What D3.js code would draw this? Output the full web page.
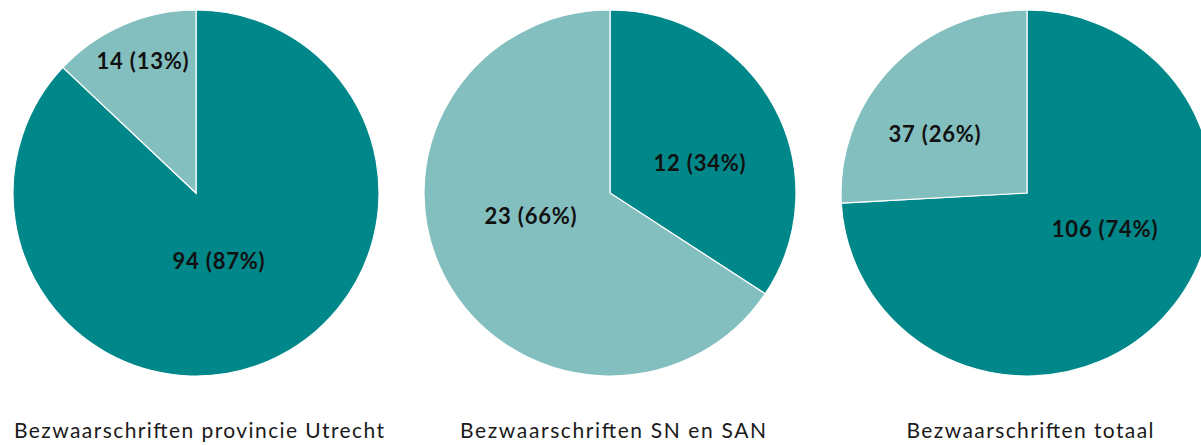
<!DOCTYPE html>
<html><head><meta charset="utf-8">
<script src="https://cdn.jsdelivr.net/npm/d3@7"></script>
<style>body{margin:0;background:#fff}svg{display:block}</style>
</head><body>
<svg id="c" width="1201" height="445"></svg>
<script>
const titles = ["Bezwaarschriften provincie Utrecht", "Bezwaarschriften SN en SAN", "Bezwaarschriften totaal"];
const darkValues = [94, 12, 106];
const lightValues = [14, 23, 37];
const darkPct = ["87%", "34%", "74%"];
const lightPct = ["13%", "66%", "26%"];

const colors = ["#008789", "#83bfbf"];
const centersX = [196, 610, 1027];
const cy = 193, R = 183;
const radiusX = [183, 186, 186];
const titleWidths = [370, 306, 247];
// label offsets from pie centre [dark, light]
const labelOff = [
  [[23, 67], [-53, -133]],
  [[90, -31], [-79, 22]],
  [[78, 35], [-92, -60]]
];

const svg = d3.select("#c");
const pie = d3.pie().sort(null).value(d => d.v);
const arc = d3.arc().innerRadius(0).outerRadius(R);

titles.forEach((t, i) => {
  const data = [
    {v: darkValues[i], p: darkPct[i], c: colors[0]},
    {v: lightValues[i], p: lightPct[i], c: colors[1]}
  ];
  const g = svg.append("g").attr("transform", `translate(${centersX[i]},${cy})`);
  const arcs = pie(data);
  g.append("g").attr("transform", `scale(${radiusX[i] / R},1)`)
    .selectAll("path").data(arcs).join("path")
    .attr("d", arc).attr("fill", d => d.data.c)
    .attr("stroke", "#fff").attr("stroke-width", 1.2);
  g.selectAll("text.lab").data(arcs).join("text").attr("class", "lab")
    .attr("x", (d, j) => labelOff[i][j][0])
    .attr("y", (d, j) => labelOff[i][j][1])
    .attr("text-anchor", "middle").attr("dominant-baseline", "central")
    .attr("font-family", "Lato, sans-serif").attr("font-weight", "bold")
    .attr("font-size", 22).attr("letter-spacing", 0.8).attr("fill", "#111")
    .text(d => `${d.data.v} (${d.data.p})`);
  svg.append("text")
    .attr("x", centersX[i] + 3).attr("y", 438)
    .attr("text-anchor", "middle")
    .attr("font-family", "Lato, sans-serif").attr("font-size", 21).attr("fill", "#1a1a1a")
    .attr("textLength", titleWidths[i]).attr("lengthAdjust", "spacing")
    .text(t);
});
</script>
</body></html>
